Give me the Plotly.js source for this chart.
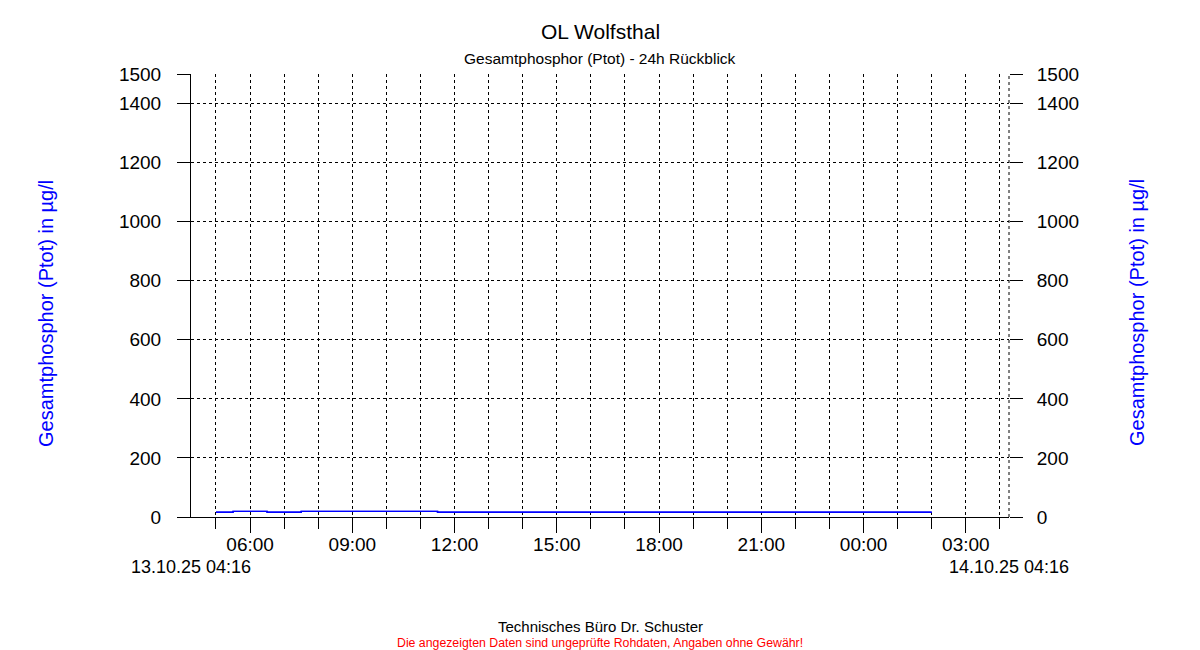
<!DOCTYPE html>
<html>
<head>
<meta charset="utf-8">
<script src="https://cdn.plot.ly/plotly-3.0.1.min.js"></script>
<style>
  html, body { margin: 0; padding: 0; background: #ffffff; }
  #chart { width: 1200px; height: 650px; }
</style>
</head>
<body>
<div id="chart"></div>
<script>
// Gesamtphosphor (Ptot) readings, step values in µg/l
const times = [
  '2025-10-13 05:00',
  '2025-10-13 05:30',
  '2025-10-13 06:30',
  '2025-10-13 07:30',
  '2025-10-13 11:30',
  '2025-10-14 02:00'
];
const ptot = [16, 19, 16, 19, 16, 16];

// 24h window
const rangeStart = '2025-10-13 04:16';
const rangeEnd = '2025-10-14 04:16';
const startLabel = '13.10.25 04:16';
const endLabel = '14.10.25 04:16';

const yTicks = [0, 200, 400, 600, 800, 1000, 1200, 1400, 1500];
const yTickText = yTicks.map(String);

const FONT = 'Liberation Sans, Arial, sans-serif';
const HOUR = 3600000;
const dash = '3px,3px';
const blue = '#0000ff';

const trace = {
  x: times,
  y: ptot,
  type: 'scatter',
  mode: 'lines',
  line: { color: blue, width: 1.4, shape: 'hv' },
  hoverinfo: 'x+y',
  showlegend: false
};

const yAxisCommon = {
  range: [0, 1500],
  tickmode: 'array',
  tickvals: yTicks,
  ticktext: yTickText,
  ticks: 'outside',
  ticklen: 13,
  tickwidth: 1,
  tickcolor: '#000',
  tickfont: { family: FONT, size: 19, color: '#000' },
  zeroline: false,
  fixedrange: true
};

const layout = {
  width: 1200,
  height: 650,
  paper_bgcolor: '#fff',
  plot_bgcolor: '#fff',
  margin: { l: 191, r: 191, t: 74, b: 133 },
  showlegend: false,
  font: { family: FONT, color: '#000' },
  xaxis: {
    type: 'date',
    range: [rangeStart, rangeEnd],
    tick0: '2025-10-13 00:00',
    dtick: 3 * HOUR,
    tickformat: '%H:%M',
    ticks: 'outside',
    ticklen: 15,
    tickwidth: 1,
    tickcolor: '#000',
    tickfont: { family: FONT, size: 19, color: '#000' },
    ticklabelstandoff: -5,
    showgrid: true,
    gridcolor: '#000',
    gridwidth: 1,
    griddash: dash,
    showline: true,
    linecolor: '#000',
    linewidth: 1,
    zeroline: false,
    minor: {
      tick0: '2025-10-13 00:00',
      dtick: HOUR,
      ticks: 'outside',
      ticklen: 11,
      tickwidth: 1,
      tickcolor: '#000',
      showgrid: true,
      gridcolor: '#000',
      gridwidth: 1,
      griddash: dash
    },
    fixedrange: true
  },
  yaxis: Object.assign({}, yAxisCommon, {
    side: 'left',
    showgrid: true,
    gridcolor: '#000',
    gridwidth: 1,
    griddash: dash,
    showline: true,
    linecolor: '#000',
    linewidth: 1,
    ticklabelstandoff: 12
  }),
  yaxis2: Object.assign({}, yAxisCommon, {
    overlaying: 'y',
    side: 'right',
    anchor: 'x',
    showgrid: false,
    showline: false,
    ticklabelstandoff: 10
  }),
  shapes: [
    // dashed closing line at the right edge of the window
    {
      type: 'line', xref: 'paper', yref: 'paper',
      x0: 1, x1: 1, y0: 0, y1: 1,
      line: { color: '#000', width: 1, dash: dash }
    }
  ],
  annotations: [
    { text: 'OL Wolfsthal', xref: 'paper', yref: 'paper', x: 0.5, y: 1.097,
      xanchor: 'center', yanchor: 'middle', showarrow: false,
      font: { family: FONT, size: 21, color: '#000' } },
    { text: 'Gesamtphosphor (Ptot) - 24h Rückblick', xref: 'paper', yref: 'paper', x: 0.5, y: 1.034,
      xanchor: 'center', yanchor: 'middle', showarrow: false,
      font: { family: FONT, size: 15.5, color: '#000' } },
    { text: 'Gesamtphosphor (Ptot) in µg/l', xref: 'paper', yref: 'paper', x: -0.1773, y: 0.4605,
      xanchor: 'center', yanchor: 'middle', textangle: -90, showarrow: false,
      font: { family: FONT, size: 20, color: blue } },
    { text: 'Gesamtphosphor (Ptot) in µg/l', xref: 'paper', yref: 'paper', x: 1.1565, y: 0.4605,
      xanchor: 'center', yanchor: 'middle', textangle: -90, showarrow: false,
      font: { family: FONT, size: 20, color: blue } },
    { text: startLabel, xref: 'paper', yref: 'paper', x: 0, y: -0.112,
      xanchor: 'center', yanchor: 'middle', showarrow: false,
      font: { family: FONT, size: 18, color: '#000' } },
    { text: endLabel, xref: 'paper', yref: 'paper', x: 1, y: -0.112,
      xanchor: 'center', yanchor: 'middle', showarrow: false,
      font: { family: FONT, size: 18, color: '#000' } },
    { text: 'Technisches Büro Dr. Schuster', xref: 'paper', yref: 'paper', x: 0.5, y: -0.248,
      xanchor: 'center', yanchor: 'middle', showarrow: false,
      font: { family: FONT, size: 15, color: '#000' } },
    { text: 'Die angezeigten Daten sind ungeprüfte Rohdaten, Angaben ohne Gewähr!', xref: 'paper', yref: 'paper', x: 0.5, y: -0.284,
      xanchor: 'center', yanchor: 'middle', showarrow: false,
      font: { family: FONT, size: 12.3, color: '#ff0000' } }
  ]
};

// second trace keeps the right-hand axis attached to the plot
const traceRight = Object.assign({}, trace, { yaxis: 'y2', hoverinfo: 'skip' });

Plotly.newPlot('chart', [trace, traceRight], layout, { displayModeBar: false, staticPlot: true });
</script>
</body>
</html>
